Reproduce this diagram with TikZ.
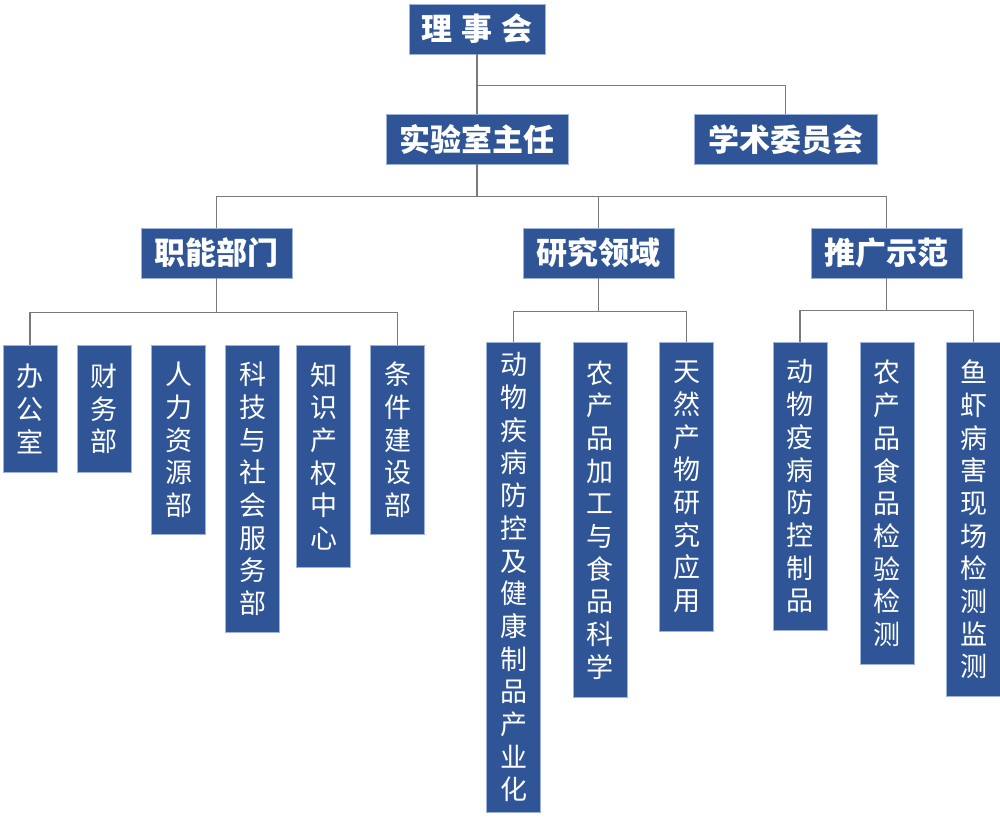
\documentclass[tikz,border=0pt]{standalone}
\usepackage{fontspec}
\newfontfamily\cjk{Noto Sans CJK SC}
\definecolor{boxblue}{HTML}{2F5597}
\definecolor{boxedge}{HTML}{9DB3DB}
\definecolor{linegray}{HTML}{7A7A7A}
\begin{document}
\begin{tikzpicture}[x=1pt,y=-1pt,
  hbox/.style={fill=boxblue,draw=boxedge,line width=0.8pt,text=white,
    font=\cjk\bfseries\fontsize{31}{36}\selectfont,inner sep=0pt,minimum height=50pt},
  vbox/.style={fill=boxblue,draw=boxedge,line width=0.8pt,text=white,
    font=\cjk\fontsize{27}{32.7}\selectfont,inner sep=0pt,minimum width=54pt,
    align=center,anchor=north},
  conn/.style={draw=linegray,line width=1.2pt}]
\useasboundingbox (0,0) rectangle (1000,819);
% level 1-3
\node[hbox,minimum width=136pt] (lsh) at (477,29) {理\hspace{9pt}事\hspace{9pt}会};
\node[hbox,minimum width=182pt] (zr) at (477,139) {实验室主任};
\node[hbox,minimum width=183pt] (xs) at (785.5,139.5) {学术委员会};
\node[hbox,minimum width=151pt] (zn) at (216.5,253) {职能部门};
\node[hbox,minimum width=151pt] (yj) at (598.5,253) {研究领域};
\node[hbox,minimum width=151pt] (tg) at (886.5,253) {推广示范};
% level 4 left
\node[vbox,minimum height=127pt] (a1) at (30,345) {办\\公\\室};
\node[vbox,minimum height=127pt] (a2) at (104,345) {财\\务\\部};
\node[vbox,minimum height=189pt] (a3) at (178.5,345) {人\\力\\资\\源\\部};
\node[vbox,minimum height=287pt] (a4) at (252.5,345) {科\\技\\与\\社\\会\\服\\务\\部};
\node[vbox,minimum height=222pt] (a5) at (323.5,345) {知\\识\\产\\权\\中\\心};
\node[vbox,minimum height=189pt] (a6) at (397.5,345) {条\\件\\建\\设\\部};
% level 4 middle
\node[vbox,minimum height=470pt] (b1) at (513.5,342) {动\\物\\疾\\病\\防\\控\\及\\健\\康\\制\\品\\产\\业\\化};
\node[vbox,minimum height=355pt] (b2) at (600,342) {农\\产\\品\\加\\工\\与\\食\\品\\科\\学};
\node[vbox,minimum height=289pt] (b3) at (686.5,342) {天\\然\\产\\物\\研\\究\\应\\用};
% level 4 right
\node[vbox,minimum height=288pt] (c1) at (800,342) {动\\物\\疫\\病\\防\\控\\制\\品};
\node[vbox,minimum height=322pt] (c2) at (887,342) {农\\产\\品\\食\\品\\检\\验\\检\\测};
\node[vbox,minimum height=354pt] (c3) at (973.5,342) {鱼\\虾\\病\\害\\现\\场\\检\\测\\监\\测};
% connectors
\draw[conn] (lsh.south) -- (zr.north);
\path (lsh.south) ++(0,31) coordinate (j1);
\draw[conn] (j1) -| (xs.north);
\draw[conn] (zr.south) -- ++(0,32) coordinate (j2);
\draw[conn] (zn.north) |- (j2) -| (tg.north);
\draw[conn] (yj.north |- j2) -- (yj.north);
\draw[conn] (zn.south) -- ++(0,34) coordinate (j3);
\draw[conn] (a1.north) |- (j3) -| (a6.north);
\draw[conn] (yj.south) -- ++(0,33) coordinate (j4);
\draw[conn] (b1.north) |- (j4) -| (b3.north);
\draw[conn] (tg.south) -- ++(0,32) coordinate (j5);
\draw[conn] (c1.north) |- (j5) -| (c3.north);
\end{tikzpicture}
\end{document}
